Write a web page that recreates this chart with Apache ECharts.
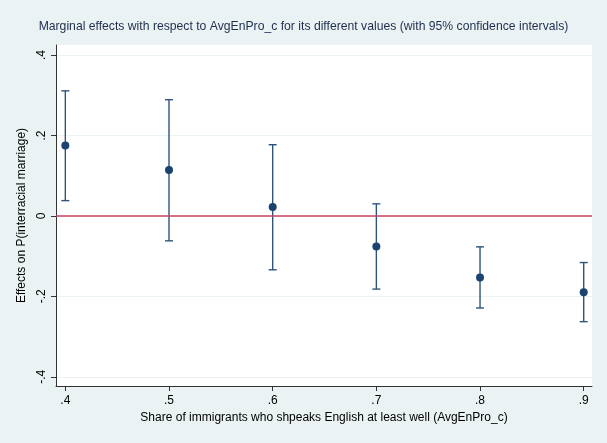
<!DOCTYPE html>
<html><head><meta charset="utf-8">
<script src="https://cdn.jsdelivr.net/npm/echarts@6/dist/echarts.min.js"></script>
<style>html,body{margin:0;padding:0;background:#eaf2f3;}#c{width:607px;height:443px;}</style>
</head><body><div id="c"></div>
<script>
const xValues = [0.4, 0.5, 0.6, 0.7, 0.8, 0.9];
const effect = [0.175, 0.114, 0.022, -0.076, -0.153, -0.190];
const upper = [0.311, 0.289, 0.177, 0.030, -0.077, -0.116];
const lower = [0.038, -0.062, -0.134, -0.182, -0.229, -0.263];
const xTicks = [0.4, 0.5, 0.6, 0.7, 0.8, 0.9];
const yTicks = [-0.4, -0.2, 0, 0.2, 0.4];

const fmt = v => { let s = String(+v.toFixed(2)); return s.replace(/^(-?)0\./, '$1.'); };
const font = 'Liberation Sans, Arial, sans-serif';

const chart = echarts.init(document.getElementById('c'), null, {renderer:'canvas'});
chart.setOption({
  backgroundColor: '#eaf2f3',
  animation: false,
  title: {
    text: 'Marginal effects with respect to AvgEnPro_c for its different values (with 95% confidence intervals)',
    left: 'center', top: 16,
    textStyle: {fontFamily: font, fontSize: 12.2, fontWeight: 'normal', color: '#1f2d4e'}
  },
  grid: {left: 56, right: 15, top: 45, bottom: 57, show: true, backgroundColor: '#ffffff', borderWidth: 0},
  xAxis: {
    type: 'value', min: 0.391, max: 0.908,
    name: 'Share of immigrants who shpeaks English at least well (AvgEnPro_c)',
    nameLocation: 'middle', nameGap: 25,
    nameTextStyle: {fontFamily: font, fontSize: 12, color: '#000'},
    axisLine: {onZero: false, lineStyle: {color: '#333', width: 1}},
    axisTick: {show: true, length: 5, customValues: xTicks, lineStyle: {color: '#333'}},
    axisLabel: {customValues: xTicks, formatter: fmt, fontFamily: font, fontSize: 12, color: '#000', margin: 9},
    splitLine: {show: false}
  },
  yAxis: {
    type: 'value', min: -0.423, max: 0.425,
    name: 'Effects on P(interracial marriage)',
    nameLocation: 'middle', nameGap: 20, nameRotate: 90,
    nameTextStyle: {fontFamily: font, fontSize: 12, color: '#000'},
    axisLine: {show: true, onZero: false, lineStyle: {color: '#333', width: 1}},
    axisTick: {show: true, length: 5, customValues: yTicks, lineStyle: {color: '#333'}},
    axisLabel: {customValues: yTicks, formatter: fmt, rotate: 90, fontFamily: font, fontSize: 12, color: '#000', margin: 8},
    splitLine: {show: true, lineStyle: {color: '#eaf2f3', width: 1}}
  },
  series: [
    {
      type: 'custom',
      data: xValues.map((x, i) => [x, lower[i], upper[i]]),
      renderItem: function (params, api) {
        const x = api.value(0);
        const lo = api.coord([x, api.value(1)]);
        const hi = api.coord([x, api.value(2)]);
        const hw = 4;
        const st = {stroke: '#2f5479', lineWidth: 1.4};
        return {type: 'group', children: [
          {type: 'line', shape: {x1: lo[0], y1: lo[1], x2: hi[0], y2: hi[1]}, style: st},
          {type: 'line', shape: {x1: lo[0]-hw, y1: lo[1], x2: lo[0]+hw, y2: lo[1]}, style: st},
          {type: 'line', shape: {x1: hi[0]-hw, y1: hi[1], x2: hi[0]+hw, y2: hi[1]}, style: st}
        ]};
      },
      z: 3
    },
    {
      type: 'scatter',
      data: xValues.map((x, i) => [x, effect[i]]),
      symbol: 'circle', symbolSize: 8,
      itemStyle: {color: '#1a446f', opacity: 1},
      z: 4,
      markLine: {
        silent: true, symbol: 'none', label: {show: false},
        lineStyle: {color: '#c8435f', width: 1.6, type: 'solid'},
        data: [{yAxis: 0}]
      }
    }
  ]
});
</script></body></html>
